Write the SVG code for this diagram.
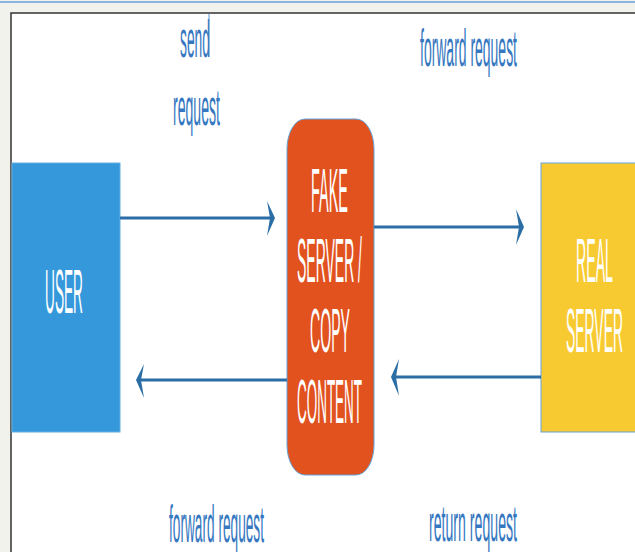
<svg xmlns="http://www.w3.org/2000/svg" width="635" height="552" viewBox="0 0 635 552">
<style>
.lbl{font-family:"Liberation Sans",Arial,sans-serif;font-size:52px;fill:#3577c0}
.ntx{font-family:"Liberation Sans",Arial,sans-serif;font-size:63px;fill:#ffffff}
.conn{stroke:#2b6ea5;stroke-width:3;fill:none}
.head{fill:#2b6ea5}
</style>
<rect x="0" y="0" width="635" height="552" fill="#f2f2ed"/>
<line x1="0" y1="2" x2="635" y2="2" stroke="#6a9fdc" stroke-width="1.5"/>
<rect x="11" y="13" width="630" height="545" fill="#ffffff" stroke="#333333" stroke-width="1.5"/>
<line x1="209" y1="14" x2="209" y2="57" stroke="#5a97d2" stroke-width="1"/>
<g id="user">
<rect x="12" y="163" width="108" height="269" fill="#3498db" stroke="#63aee6" stroke-width="1"/>
<text class="ntx" x="45" y="313" textLength="38" lengthAdjust="spacingAndGlyphs">USER</text>
</g>
<g id="fake-server">
<rect x="287" y="119" width="87" height="356" rx="18" ry="30" fill="#e1521f" stroke="#63a3dd" stroke-width="1"/>
<text class="ntx" x="311" y="212" textLength="37" lengthAdjust="spacingAndGlyphs">FAKE</text>
<text class="ntx" x="297" y="282" textLength="65" lengthAdjust="spacingAndGlyphs">SERVER /</text>
<text class="ntx" x="310" y="352" textLength="40" lengthAdjust="spacingAndGlyphs">COPY</text>
<text class="ntx" x="297" y="423" textLength="65" lengthAdjust="spacingAndGlyphs">CONTENT</text>
</g>
<g id="real-server">
<rect x="541" y="163" width="100" height="269" fill="#f8ca32" stroke="#63a3dd" stroke-width="1"/>
<text class="ntx" x="576" y="282" textLength="37" lengthAdjust="spacingAndGlyphs">REAL</text>
<text class="ntx" x="566" y="352" textLength="57" lengthAdjust="spacingAndGlyphs">SERVER</text>
</g>
<g id="connectors">
<line class="conn" x1="120" y1="218" x2="271" y2="218"/>
<path class="head" d="M267,201 L275,218 L267,236 L270,218 Z"/>
<line class="conn" x1="374" y1="227" x2="520" y2="227"/>
<path class="head" d="M516,209 L524,227 L516,245 L519,227 Z"/>
<line class="conn" x1="541" y1="377" x2="395" y2="377"/>
<path class="head" d="M399,359 L391,377 L399,396 L396,377 Z"/>
<line class="conn" x1="287" y1="380" x2="140" y2="380"/>
<path class="head" d="M144,364 L136,380 L144,398 L141,380 Z"/>
</g>
<g id="labels">
<text class="lbl" x="180" y="57" textLength="30" lengthAdjust="spacingAndGlyphs">send</text>
<text class="lbl" x="173" y="125" textLength="47" lengthAdjust="spacingAndGlyphs">request</text>
<text class="lbl" x="420" y="66" textLength="97" lengthAdjust="spacingAndGlyphs">forward request</text>
<text class="lbl" x="169" y="542" textLength="95" lengthAdjust="spacingAndGlyphs">forward request</text>
<text class="lbl" x="429" y="541" textLength="88" lengthAdjust="spacingAndGlyphs">return request</text>
</g>
</svg>
